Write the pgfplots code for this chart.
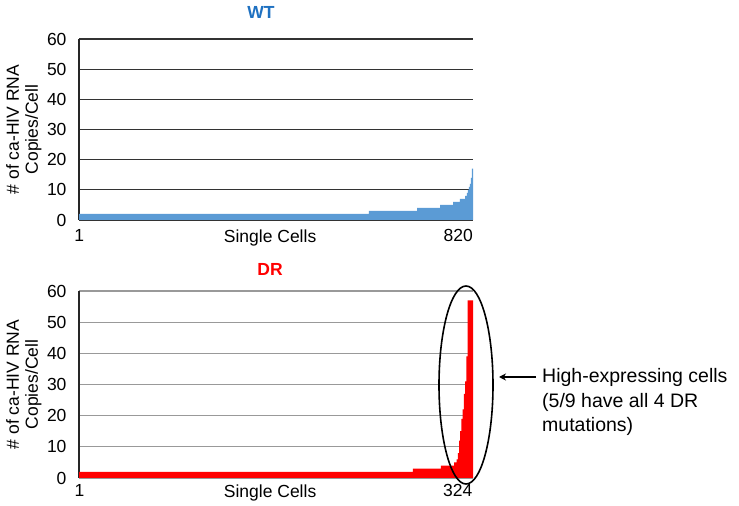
\documentclass[border=0pt]{standalone}
\usepackage{fontspec}
\setmainfont{Liberation Sans}
\usepackage{pgfplots}
\pgfplotsset{compat=1.18}
\usetikzlibrary{arrows.meta}
\definecolor{wtblue}{RGB}{91,155,213}
\definecolor{wttitle}{RGB}{31,113,193}
\definecolor{drred}{RGB}{255,0,0}
\newcommand{\axfont}{\fontsize{17.5}{19}\selectfont}
\pgfplotsset{
  mystyle/.style={
    scale only axis,
    anchor=south west,
    width=394pt,
    ymin=0, ymax=60,
    ytick={0,10,20,30,40,50,60},
    axis lines=left,
    x axis line style={-, draw=gray!70, line width=1pt},
    y axis line style={-, draw=black!85, line width=1.6pt},
    ymajorgrids,
    tick style={draw=none},
    major tick length=0pt,
    /pgf/number format/assume math mode=true,
    tick label style={font=\axfont},
    yticklabel style={xshift=-9pt},
    label style={font=\axfont},
    ylabel={\#\ of ca-HIV RNA\\Copies/Cell},
    ylabel style={at={(axis description cs:-0.0863,0.5)}, anchor=south, align=center, font=\axfont},
    xlabel={Single Cells},
    title style={font=\fontsize{17.5}{19}\selectfont\bfseries},
  }
}
\begin{document}
\begin{tikzpicture}
\useasboundingbox (0,0) rectangle (739pt,506pt);
% ---------- WT ----------
\begin{axis}[mystyle,
  at={(79pt,286pt)}, height=181pt,
  xmin=0.5, xmax=820.5,
  xtick={1,820}, xticklabels={1,\llap{820}},
  xticklabel style={anchor=north, yshift=-6pt},
  xlabel style={at={(axis description cs:0.485,0)}, anchor=north, yshift=-6pt},
  major grid style={draw=black!80, line width=1.1pt},
  title={WT},
  title style={text=wttitle, at={(rel axis cs:0.462,1)}, anchor=base, yshift=14pt},
]
\addplot[fill=wtblue, draw=none, const plot mark left] coordinates {
(0.5,2) (604,3) (704,4) (752,5) (779,6) (793,7) (804,8) (808,9)
(810,10) (812,11) (814,12) (816,14) (818,17) (820.5,17)
} \closedcycle;
\end{axis}
% ---------- DR ----------
\begin{axis}[mystyle,
  at={(79pt,28pt)}, height=187pt,
  xmin=0.5, xmax=324.5,
  xtick={1,324}, xticklabels={1,\llap{324}},
  xticklabel style={anchor=north, yshift=-3pt},
  xlabel style={at={(axis description cs:0.485,0)}, anchor=north, yshift=-3pt},
  major grid style={draw=black!40, line width=1.1pt},
  title={DR},
  title style={text=drred, at={(rel axis cs:0.485,1)}, anchor=base, yshift=10pt},
]
\addplot[fill=drred, draw=none, const plot mark left] coordinates {
(0.5,2) (275,3) (298,4) (309,5) (311,6) (312,8) (313,12) (314,15)
(315,19) (316,22) (317,27) (318,31) (319,39) (320,57) (324.5,57)
} \closedcycle;
\end{axis}
% ---------- annotation ----------
\draw[black, line width=1.6pt] (466pt,121pt) ellipse [x radius=27pt, y radius=99pt];
\draw[-{Stealth[length=7pt,width=7pt]}, line width=1.3pt] (536pt,129pt) -- (499pt,129pt);
\node[anchor=base west, inner sep=0pt, font=\fontsize{19.5}{25}\selectfont] at (542pt,123pt) {High-expressing cells};
\node[anchor=base west, inner sep=0pt, font=\fontsize{19.5}{25}\selectfont] at (542pt,98pt) {(5/9 have all 4 DR};
\node[anchor=base west, inner sep=0pt, font=\fontsize{19.5}{25}\selectfont] at (542pt,74pt) {mutations)};
\end{tikzpicture}
\end{document}
